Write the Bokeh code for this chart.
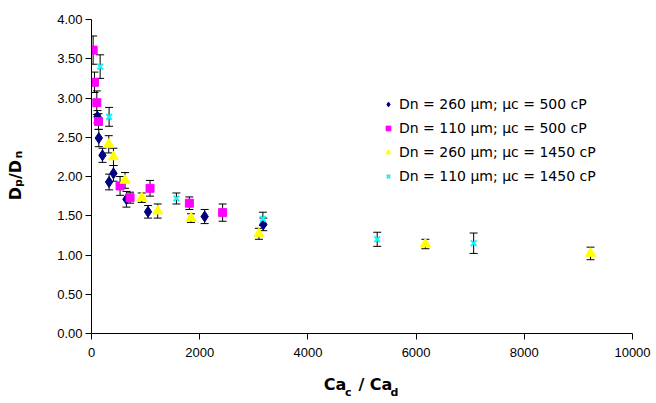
import math
from bokeh.plotting import figure
from bokeh.models import (Range1d, ColumnDataSource, Whisker, TeeHead, Legend,
                          LegendItem, LinearAxis, NumeralTickFormatter, FixedTicker)
from bokeh.embed import file_html
from bokeh.resources import INLINE

# ---- data ----
navy_x = [111, 135, 203, 325, 406, 646, 1045, 2092, 3176]
navy_y = [2.76, 2.49, 2.27, 1.93, 2.04, 1.71, 1.55, 1.49, 1.39]
navy_e = [0.08, 0.11, 0.09, 0.10, 0.10, 0.10, 0.08, 0.09, 0.08]

mag_x = [30, 55, 98, 129, 528, 713, 1082, 1809, 2424]
mag_y = [3.61, 3.20, 2.94, 2.70, 1.88, 1.73, 1.85, 1.66, 1.54]
mag_e = [0.18, 0.13, 0.15, 0.10, 0.12, 0.07, 0.10, 0.08, 0.11]

yel_x = [319, 406, 620, 929, 1224, 1839, 3095, 6172, 9224]
yel_y = [2.41, 2.25, 1.95, 1.73, 1.56, 1.47, 1.27, 1.14, 1.02]
yel_e = [0.11, 0.11, 0.10, 0.06, 0.09, 0.055, 0.07, 0.06, 0.08]

cyan_x = [160, 325, 1569, 3168, 5281, 7064]
cyan_y = [3.40, 2.76, 1.72, 1.46, 1.20, 1.15]
cyan_e = [0.15, 0.12, 0.07, 0.085, 0.09, 0.13]

labels = ["Dn = 260 µm; µc = 500 cP", "Dn = 110 µm; µc = 500 cP",
          "Dn = 260 µm; µc = 1450 cP", "Dn = 110 µm; µc = 1450 cP"]
x_ticks = [0, 2000, 4000, 6000, 8000, 10000]
y_ticks = [0, 0.5, 1.0, 1.5, 2.0, 2.5, 3.0, 3.5, 4.0]

# axis titles, split into normal / subscript parts: (text, position along the axis)
x_title_main = [("Ca", 4501), ("/ Ca", 5247)]
x_title_sub = [("c", 4745), ("d", 5600)]
y_title_main = [("D", 1.783), ("/D", 2.090)]
y_title_sub = [("p", 1.915), ("n", 2.278)]

FONT = "Liberation Sans"
TFONT = "DejaVu Sans"

p = figure(width=656, height=403, output_backend="svg", toolbar_location=None,
           x_range=Range1d(0, 10000), y_range=Range1d(0, 4),
           min_border_left=91, min_border_right=24, min_border_top=19,
           min_border_bottom=70)
p.outline_line_color = None
p.xgrid.visible = False
p.ygrid.visible = False
p.background_fill_color = "white"
p.border_fill_color = "white"

for ax in (p.xaxis[0], p.yaxis[0]):
    ax.axis_line_color = "black"
    ax.major_tick_line_color = "black"
    ax.major_tick_out = 6
    ax.major_tick_in = 0
    ax.minor_tick_line_color = None
    ax.major_label_text_font = FONT
    ax.major_label_text_font_size = "13px"
    ax.major_label_text_color = "black"
p.xaxis[0].ticker = FixedTicker(ticks=x_ticks)
p.yaxis[0].ticker = FixedTicker(ticks=y_ticks)
p.yaxis[0].formatter = NumeralTickFormatter(format="0.00")
p.xaxis[0].formatter = NumeralTickFormatter(format="0")
p.xaxis[0].major_label_standoff = 8
p.yaxis[0].major_label_standoff = 3


def title_axis(parts, size, standoff, orientation):
    ax = LinearAxis(ticker=FixedTicker(ticks=[v for _, v in parts]),
                    major_label_overrides={v: t for t, v in parts})
    ax.axis_line_color = None
    ax.major_tick_line_color = None
    ax.minor_tick_line_color = None
    ax.major_tick_out = 0
    ax.major_tick_in = 0
    ax.major_label_standoff = standoff
    ax.major_label_text_font = TFONT
    ax.major_label_text_font_style = "bold"
    ax.major_label_text_font_size = size
    ax.major_label_text_color = "black"
    ax.major_label_orientation = orientation
    return ax


p.add_layout(title_axis(x_title_main, "16px", 15, "horizontal"), "below")
p.add_layout(title_axis(x_title_sub, "11px", -11, "horizontal"), "below")
p.add_layout(title_axis(y_title_main, "16px", 29, "vertical"), "left")
p.add_layout(title_axis(y_title_sub, "11px", -22, "vertical"), "left")

series = [
    (navy_x, navy_y, navy_e, "diamond", "#000080", 11),
    (mag_x, mag_y, mag_e, "square", "#FF00FF", 8),
    (yel_x, yel_y, yel_e, "triangle", "#FFFF00", 10),
    (cyan_x, cyan_y, cyan_e, "x", "#00FFFF", 8),
]

renderers = []
for xs, ys, es, marker, color, size in series:
    src = ColumnDataSource(dict(x=xs, y=ys,
                                upper=[a + b for a, b in zip(ys, es)],
                                lower=[a - b for a, b in zip(ys, es)]))
    w = Whisker(source=src, base="x", upper="upper", lower="lower",
                dimension="height", line_color="black", line_width=1,
                upper_head=TeeHead(size=8, line_color="black", line_width=1),
                lower_head=TeeHead(size=8, line_color="black", line_width=1),
                level="underlay")
    p.add_layout(w)
    if marker == "x":
        r = p.scatter("x", "y", source=src, marker="x", size=size,
                      line_color=color, line_width=2)
    else:
        r = p.scatter("x", "y", source=src, marker=marker, size=size,
                      fill_color=color, line_color=color)
    renderers.append(r)

legend = Legend(items=[LegendItem(label=l, renderers=[r]) for l, r in zip(labels, renderers)],
                location=(291, 147), border_line_color=None, background_fill_alpha=0,
                padding=0, margin=0, spacing=4, label_height=20, glyph_width=12,
                glyph_height=12, label_standoff=5, label_text_font=TFONT,
                label_text_font_size="14px", label_text_color="black")
p.add_layout(legend)

open("out.html", "w").write(file_html(p, INLINE))
